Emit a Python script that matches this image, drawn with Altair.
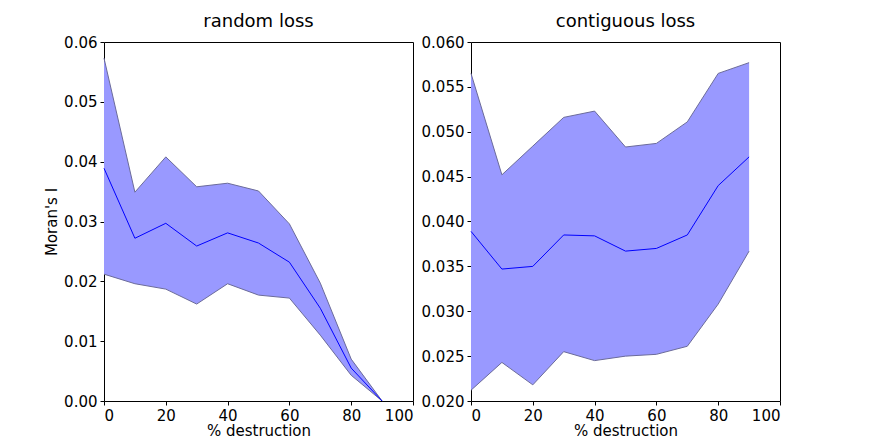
import altair as alt
import pandas as pd

destruction = [0, 10, 20, 30, 40, 50, 60, 70, 80, 90]

random_mean = [0.0389, 0.0272, 0.0297, 0.0259, 0.0281, 0.0264, 0.0232, 0.0155, 0.0055, 0.0]
random_upper = [0.0573, 0.0349, 0.0408, 0.0358, 0.0364, 0.0351, 0.0296, 0.0197, 0.0070, 0.0]
random_lower = [0.0212, 0.0196, 0.0187, 0.0162, 0.0196, 0.0177, 0.0172, 0.0110, 0.0043, 0.0]

contig_mean = [0.0389, 0.0347, 0.0350, 0.0385, 0.0384, 0.0367, 0.0370, 0.0385, 0.0440, 0.0472]
contig_upper = [0.0565, 0.0452, 0.0484, 0.0516, 0.0523, 0.0483, 0.0487, 0.0511, 0.0565, 0.0577]
contig_lower = [0.0212, 0.0243, 0.0218, 0.0255, 0.0245, 0.0250, 0.0252, 0.0261, 0.0308, 0.0367]


def panel(title, mean, upper, lower, ydomain, fmt, ytitle):
    df = pd.DataFrame({"x": destruction, "mean": mean, "upper": upper, "lower": lower})
    base = alt.Chart(df)
    x = alt.X("x:Q", title="% destruction", scale=alt.Scale(domain=[0, 100], nice=False),
              axis=alt.Axis(values=[0, 20, 40, 60, 80, 100], titlePadding=0))
    y_scale = alt.Scale(domain=ydomain, nice=False, zero=False)
    band = base.mark_area(color="#9999ff", opacity=1).encode(
        x=x,
        y=alt.Y("upper:Q", scale=y_scale, title=ytitle,
                axis=alt.Axis(format=fmt, tickCount=7)),
        y2="lower:Q",
    )
    up = base.mark_line(color="#6b6b9a", strokeWidth=1).encode(x=x, y="upper:Q")
    lo = base.mark_line(color="#6b6b9a", strokeWidth=1).encode(x=x, y="lower:Q")
    mid = base.mark_line(color="#0000ff", strokeWidth=1).encode(x=x, y="mean:Q")
    return (band + up + lo + mid).properties(
        width=309, height=359, title=alt.TitleParams(title, fontSize=18, fontWeight="normal")
    )


left = panel("random loss", random_mean, random_upper, random_lower, [0, 0.06], ".2f", "Moran's I")
right = panel("contiguous loss", contig_mean, contig_upper, contig_lower, [0.02, 0.06], ".3f", None)

chart = (
    alt.hconcat(left, right, spacing=6)
    .properties(padding={"left": 36, "top": 4, "right": 5, "bottom": 0})
    .configure_view(stroke="black", strokeWidth=1)
    .configure_axis(
        grid=False, domain=False, labelFontSize=15, titleFontSize=15,
        labelFont="DejaVu Sans", titleFont="DejaVu Sans", titleFontWeight="normal",
        labelColor="black", titleColor="black", tickColor="black",
        tickSize=4, labelPadding=3,
    )
    .configure_title(font="DejaVu Sans", color="black", offset=4)
)

chart.save("out.html", embed_options={"renderer": "svg", "actions": False})
